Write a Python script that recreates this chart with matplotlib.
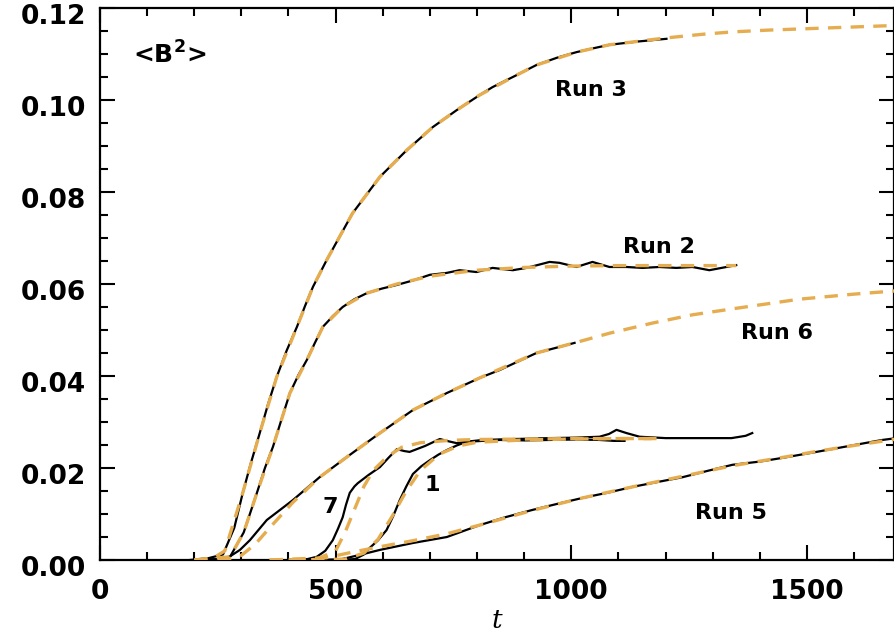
import matplotlib
matplotlib.use("Agg")
import matplotlib.pyplot as plt
import matplotlib.transforms as mtransforms
from matplotlib.ticker import MultipleLocator, FormatStrFormatter

# Run 3 data and fit
t3 = [190, 230, 261, 285, 303, 320, 339, 357, 375, 396, 418, 435, 452, 481, 536,
      594, 651, 706, 757, 806, 833, 880, 926, 970, 1011, 1045, 1081, 1140, 1202]
b3 = [0.0000, 0.0004, 0.0012, 0.0070, 0.0146, 0.0210, 0.0276, 0.0340, 0.0398,
      0.0455, 0.0507, 0.0552, 0.0594, 0.0652, 0.0754, 0.0833, 0.0891, 0.0941,
      0.0978, 0.1011, 0.1028, 0.1052, 0.1076, 0.1092, 0.1104, 0.1112, 0.1120,
      0.1127, 0.1133]
t3_fit = [200, 240, 265, 303, 339, 375, 418, 452, 481, 536, 594, 651, 706, 757,
          806, 880, 926, 1011, 1081, 1202, 1280, 1342, 1420, 1501, 1580, 1660, 1700]
b3_fit = [0.0000, 0.0004, 0.0020, 0.0146, 0.0276, 0.0398, 0.0507, 0.0594, 0.0652,
          0.0754, 0.0833, 0.0891, 0.0941, 0.0978, 0.1011, 0.1052, 0.1076, 0.1104,
          0.1120, 0.1135, 0.1143, 0.1148, 0.1152, 0.1155, 0.1158, 0.1161, 0.1162]

# Run 2 data and fit
t2 = [200, 250, 276, 305, 333, 350, 367, 385, 403, 421, 439, 456, 473, 494, 515,
      540, 566, 598, 630, 665, 700, 735, 763, 799, 833, 876, 905, 954, 975, 1011,
      1045, 1081, 1117, 1151, 1187, 1223, 1257, 1293, 1350]
b2 = [0.0000, 0.0002, 0.0007, 0.0060, 0.0146, 0.0200, 0.0246, 0.0305, 0.0363,
      0.0402, 0.0435, 0.0472, 0.0507, 0.0530, 0.0550, 0.0567, 0.0580, 0.0590,
      0.0598, 0.0608, 0.0620, 0.0624, 0.0630, 0.0626, 0.0635, 0.0630, 0.0635,
      0.0648, 0.0646, 0.0637, 0.0648, 0.0637, 0.0637, 0.0635, 0.0637, 0.0635,
      0.0637, 0.0630, 0.0641]
t2_fit = [200, 276, 305, 333, 367, 403, 439, 473, 515, 566, 630, 700, 800, 900,
          1000, 1100, 1200, 1350]
b2_fit = [0.0000, 0.0007, 0.0060, 0.0146, 0.0246, 0.0363, 0.0435, 0.0507, 0.0550,
          0.0580, 0.0600, 0.0617, 0.0630, 0.0636, 0.0639, 0.0640, 0.0640, 0.0640]

# Run 6 data and fit
t6 = [200, 260, 276, 297, 318, 354, 409, 466, 524, 594, 664, 736, 806, 848, 926, 1007]
b6 = [0.0000, 0.0002, 0.0008, 0.0022, 0.0043, 0.0087, 0.0130, 0.0180, 0.0224,
      0.0276, 0.0326, 0.0363, 0.0396, 0.0413, 0.0450, 0.0472]
t6_fit = [250, 276, 300, 330, 360, 409, 466, 524, 594, 664, 736, 806, 926, 1007,
          1081, 1172, 1257, 1342, 1484, 1600, 1700]
b6_fit = [0.0000, 0.0003, 0.0010, 0.0035, 0.0070, 0.0125, 0.0180, 0.0224, 0.0276,
          0.0326, 0.0363, 0.0396, 0.0450, 0.0472, 0.0493, 0.0515, 0.0533, 0.0546,
          0.0567, 0.0578, 0.0586]

# Run 7 data and fit
t7 = [400, 440, 460, 478, 494, 505, 515, 522, 530, 540, 547, 570, 594, 612, 630,
      645, 657, 690, 721, 740, 757, 785, 812, 880, 954, 1010, 1060, 1080, 1096,
      1117, 1145, 1200, 1272, 1340, 1370, 1384]
b7 = [0.0000, 0.0002, 0.0007, 0.0020, 0.0043, 0.0068, 0.0093, 0.0120, 0.0146,
      0.0160, 0.0167, 0.0185, 0.0202, 0.0222, 0.0241, 0.0237, 0.0235, 0.0248,
      0.0263, 0.0258, 0.0254, 0.0258, 0.0261, 0.0263, 0.0265, 0.0266, 0.0268,
      0.0274, 0.0283, 0.0276, 0.0268, 0.0265, 0.0265, 0.0265, 0.0270, 0.0276]
t7_fit = [360, 460, 500, 520, 540, 560, 580, 610, 640, 680, 740, 800, 900, 1000,
          1100, 1180]
b7_fit = [0.0000, 0.0002, 0.0020, 0.0060, 0.0110, 0.0160, 0.0195, 0.0225, 0.0245,
          0.0255, 0.0260, 0.0262, 0.0263, 0.0264, 0.0264, 0.0264]

# Run 1 data and fit
t1 = [480, 520, 541, 560, 572, 590, 608, 622, 636, 650, 664, 682, 700, 718, 736,
      757, 778, 812, 848, 900, 954, 1010, 1060, 1090, 1113]
b1 = [0.0000, 0.0001, 0.0002, 0.0012, 0.0026, 0.0043, 0.0065, 0.0095, 0.0130,
      0.0160, 0.0187, 0.0204, 0.0217, 0.0229, 0.0239, 0.0249, 0.0257, 0.0259,
      0.0261, 0.0260, 0.0261, 0.0262, 0.0261, 0.0259, 0.0259]
t1_fit = [400, 520, 560, 590, 620, 650, 680, 720, 760, 800, 900, 1000, 1100, 1200]
b1_fit = [0.0000, 0.0002, 0.0015, 0.0045, 0.0095, 0.0150, 0.0195, 0.0230, 0.0248,
          0.0256, 0.0261, 0.0263, 0.0264, 0.0264]

# Run 5 data and fit
t5 = [400, 509, 551, 594, 664, 736, 806, 860, 918, 970, 1024, 1080, 1130, 1180,
      1236, 1290, 1342, 1400, 1448, 1520, 1590, 1660, 1690]
b5 = [0.0000, 0.0001, 0.0011, 0.0022, 0.0037, 0.0050, 0.0076, 0.0093, 0.0109,
      0.0122, 0.0135, 0.0147, 0.0159, 0.0169, 0.0180, 0.0194, 0.0207, 0.0214,
      0.0222, 0.0235, 0.0248, 0.0261, 0.0265]
t5_fit = [360, 480, 540, 600, 664, 736, 806, 918, 1024, 1130, 1236, 1342, 1448,
          1520, 1600, 1690]
b5_fit = [0.0000, 0.0005, 0.0018, 0.0030, 0.0042, 0.0057, 0.0076, 0.0108, 0.0135,
          0.0159, 0.0182, 0.0205, 0.0223, 0.0236, 0.0249, 0.0263]

# label text and positions (data coords)
run_labels = ["Run 3", "Run 2", "Run 6", "Run 5", "7", "1"]
label_t = [1041, 1185, 1437, 1338, 488, 704]
label_b = [0.1022, 0.0680, 0.0494, 0.0102, 0.0115, 0.0163]

fit_color = "#E5AD4F"

fig = plt.figure(figsize=(8.95, 6.39), dpi=100)
ax = fig.add_axes([0.1117, 0.1236, 0.8873, 0.8639])

runs = [(t3, b3), (t2, b2), (t6, b6), (t7, b7), (t1, b1), (t5, b5)]
fits = [(t3_fit, b3_fit), (t2_fit, b2_fit), (t6_fit, b6_fit),
        (t7_fit, b7_fit), (t1_fit, b1_fit), (t5_fit, b5_fit)]

for t, b in runs:
    ax.plot(t, b, color="black", lw=1.6, zorder=2)
for t, b in fits:
    ax.plot(t, b, color=fit_color, lw=2.4, dashes=(4, 2.8), zorder=3)

for txt, x, y in zip(run_labels, label_t, label_b):
    ax.text(x, y, txt, fontsize=16, fontweight="bold", ha="center", va="center")

ax.text(70, 0.1098, r"<B$^{\mathbf{2}}$>", fontsize=18, fontweight="bold",
        ha="left", va="center")

ax.set_xlim(0, 1685)
ax.set_ylim(0, 0.12)
ax.xaxis.set_major_locator(MultipleLocator(500))
ax.xaxis.set_minor_locator(MultipleLocator(100))
ax.yaxis.set_major_locator(MultipleLocator(0.02))
ax.yaxis.set_minor_locator(MultipleLocator(0.005))
ax.yaxis.set_major_formatter(FormatStrFormatter("%.2f"))

ax.tick_params(which="both", direction="in", top=True, right=True, width=1.5)
ax.tick_params(which="major", length=11)
ax.tick_params(which="minor", length=6)
ax.tick_params(axis="x", pad=14)
ax.tick_params(axis="y", pad=10)
for lab in ax.get_xticklabels() + ax.get_yticklabels():
    lab.set_fontsize(19)
    lab.set_fontweight("bold")

# y labels sit a little below their ticks, as in the original
shift = mtransforms.ScaledTranslation(0, -4 / 72, fig.dpi_scale_trans)
for lab in ax.get_yticklabels():
    lab.set_transform(lab.get_transform() + shift)

for sp in ax.spines.values():
    sp.set_linewidth(1.6)

ax.set_xlabel("t", fontsize=19, fontstyle="italic", family="DejaVu Serif",
              labelpad=2)

plt.savefig("out.png", dpi=100)
